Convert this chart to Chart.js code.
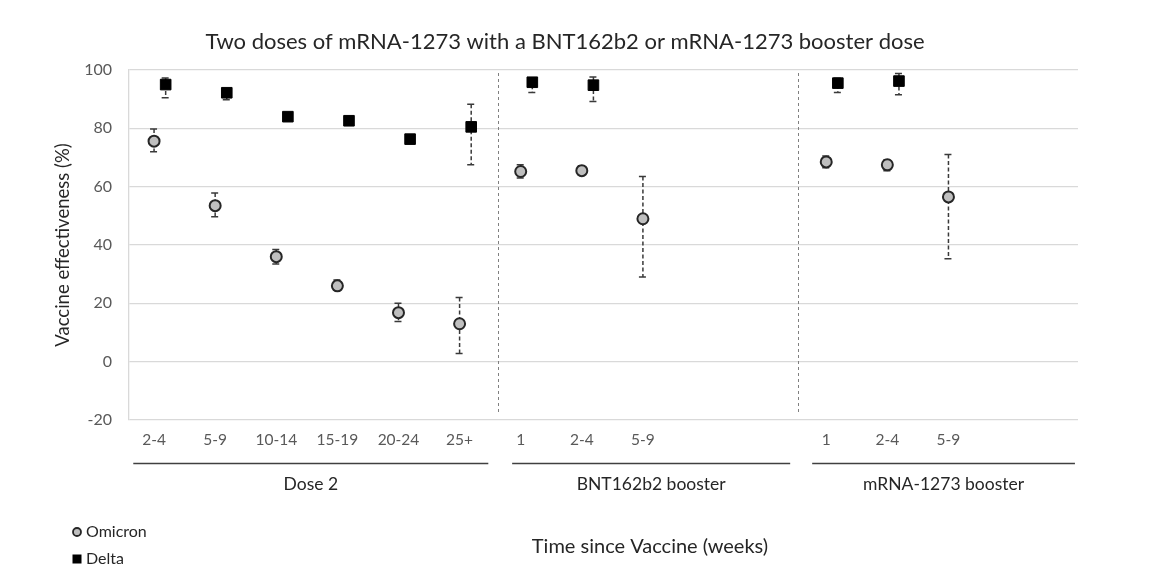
<!DOCTYPE html>
<html><head><meta charset="utf-8">
<script src="https://cdn.jsdelivr.net/npm/chart.js@4.4.1/dist/chart.umd.min.js"></script>
<style>html,body{margin:0;padding:0;background:#fff;}#wrap{width:1170px;height:585px;}</style>
</head><body><div id="wrap"><canvas id="c" width="1170" height="585"></canvas></div>
<script>
// ---- data ----
const xTickLabels = ['2-4','5-9','10-14','15-19','20-24','25+','1','2-4','5-9','','','1','2-4','5-9'];
const omicronPos  = [0,1,2,3,4,5,6,7,8,11,12,13];
const omicronVE   = [75.6,53.5,36.0,26.0,16.8,13.0,65.2,65.5,49.0,68.5,67.5,56.5];
const omicronLow  = [72.0,49.7,33.5,24.5,13.8,2.8,63.0,64.0,29.0,66.5,65.5,35.3];
const omicronHigh = [79.8,57.8,38.5,28.0,20.0,22.0,67.5,67.2,63.5,70.5,69.2,71.0];
const deltaPos    = [0,1,2,3,4,5,6,7,11,12];
const deltaVE     = [95.0,92.2,84.0,82.6,76.3,80.5,95.8,94.8,95.5,96.2];
const deltaLow    = [90.5,89.8,83.4,82.0,75.2,67.5,92.3,89.2,92.3,91.5];
const deltaHigh   = [97.3,93.6,84.6,83.3,77.2,88.3,97.0,97.6,97.2,98.8];
const groupNames  = ['Dose 2','BNT162b2 booster','mRNA-1273 booster'];
const seriesNames = ['Omicron','Delta'];
const yTicks      = [-20,0,20,40,60,80,100];

// ---- layout (positions in x-axis units) ----
const deltaOffset = 0.19;
const groupSpans  = [[-0.34,5.47],[5.86,10.41],[10.77,15.07]];
const separators  = [5.63,10.54];
const FONT = 'Lato, "Open Sans", sans-serif';

const omicronData = omicronPos.map((p,i)=>({x:p, y:omicronVE[i], lo:omicronLow[i], hi:omicronHigh[i]}));
const deltaData   = deltaPos.map((p,i)=>({x:p+deltaOffset, y:deltaVE[i], lo:deltaLow[i], hi:deltaHigh[i]}));

const extras = {
  id:'extras',
  beforeDatasetsDraw(chart){
    const ctx = chart.ctx, xs = chart.scales.x, ys = chart.scales.y, ca = chart.chartArea;
    ctx.save();
    // separators
    ctx.strokeStyle = '#808080'; ctx.lineWidth = 1; ctx.setLineDash([3,3]);
    separators.forEach(s=>{
      const px = Math.round(xs.getPixelForValue(s))+0.5;
      ctx.beginPath(); ctx.moveTo(px, ca.top+3); ctx.lineTo(px, ca.bottom-6); ctx.stroke();
    });
    // error bars
    chart.data.datasets.forEach((ds,di)=>{
      ds.data.forEach(d=>{
        const px = xs.getPixelForValue(d.x);
        const pl = ys.getPixelForValue(d.lo), ph = ys.getPixelForValue(d.hi);
        ctx.strokeStyle = '#3a3a3a'; ctx.lineWidth = 1.5;
        ctx.setLineDash([4,2.5]);
        ctx.beginPath(); ctx.moveTo(px, ph); ctx.lineTo(px, pl); ctx.stroke();
        ctx.setLineDash([]);
        ctx.beginPath();
        ctx.moveTo(px-4, ph); ctx.lineTo(px+3, ph);
        ctx.moveTo(px-4, pl); ctx.lineTo(px+3, pl);
        ctx.stroke();
      });
    });
    ctx.restore();
  },
  afterDraw(chart){
    const ctx = chart.ctx, xs = chart.scales.x, ca = chart.chartArea;
    ctx.save();
    ctx.textAlign = 'center'; ctx.textBaseline = 'middle';
    // title
    ctx.fillStyle = '#262626'; ctx.font = '22px ' + FONT;
    ctx.fillText('Two doses of mRNA-1273 with a BNT162b2 or mRNA-1273 booster dose', 565, 42);
    // y title
    ctx.save(); ctx.translate(63, (ca.top+ca.bottom)/2); ctx.rotate(-Math.PI/2);
    ctx.fillStyle = '#262626'; ctx.font = '18.5px ' + FONT;
    ctx.fillText('Vaccine effectiveness (%)', 0, 0);
    ctx.restore();
    // group brackets
    ctx.strokeStyle = '#404040'; ctx.lineWidth = 1.5;
    ctx.fillStyle = '#262626'; ctx.font = '17.5px ' + FONT;
    groupSpans.forEach((g,i)=>{
      const a = xs.getPixelForValue(g[0]), b = xs.getPixelForValue(g[1]);
      ctx.beginPath(); ctx.moveTo(a, 463.5); ctx.lineTo(b, 463.5); ctx.stroke();
      ctx.fillText(groupNames[i], (a+b)/2, 484);
    });
    // x title
    ctx.font = '20px ' + FONT;
    ctx.fillText('Time since Vaccine (weeks)', 650, 547);
    // legend
    ctx.textAlign = 'left';
    ctx.font = '16px ' + FONT;
    ctx.beginPath(); ctx.arc(77, 532, 4, 0, Math.PI*2);
    ctx.fillStyle = '#bfbfbf'; ctx.fill();
    ctx.lineWidth = 1.8; ctx.strokeStyle = '#262626'; ctx.stroke();
    ctx.fillStyle = '#262626'; ctx.fillText(seriesNames[0], 86, 532);
    ctx.fillStyle = '#000'; ctx.fillRect(72.5, 554.5, 9, 9);
    ctx.fillStyle = '#262626'; ctx.fillText(seriesNames[1], 86, 559);
    ctx.restore();
  }
};

new Chart(document.getElementById('c'), {
  type:'scatter',
  data:{datasets:[
    {label:seriesNames[0], data:omicronData, pointStyle:'circle', pointRadius:5.5, pointHoverRadius:5.5,
     backgroundColor:'#bfbfbf', borderColor:'#262626', borderWidth:2, pointBorderWidth:2},
    {label:seriesNames[1], data:deltaData, pointStyle:'rect', pointRadius:7.5, pointHoverRadius:7.5,
     backgroundColor:'#000', borderColor:'#000', borderWidth:1, pointBorderWidth:1}
  ]},
  options:{
    responsive:false, animation:false, devicePixelRatio:1,
    layout:{padding:{left:0, right:92, top:70, bottom:135}},
    plugins:{legend:{display:false}, tooltip:{enabled:false}, title:{display:false}},
    scales:{
      x:{type:'linear', min:-0.41, max:15.12,
         afterBuildTicks(s){ s.ticks = xTickLabels.map((t,i)=>({value:i})); },
         afterFit(s){ s.height = 30; },
         grid:{display:false, drawTicks:false},
         border:{display:false},
         ticks:{autoSkip:false, maxRotation:0, padding:11, color:'#595959', font:{family:FONT, size:15.5},
                callback:(v)=> xTickLabels[Math.round(v)] ?? ''}},
      y:{min:-20, max:100,
         afterBuildTicks(s){ s.ticks = yTicks.map(v=>({value:v})); },
         afterFit(s){ s.width = 129; },
         grid:{color:'#d9d9d9', lineWidth:1.3, drawTicks:false},
         border:{display:true, color:'#d9d9d9', width:1.3},
         ticks:{padding:17, color:'#595959', font:{family:FONT, size:16}}}
    }
  },
  plugins:[extras]
});
</script></body></html>
